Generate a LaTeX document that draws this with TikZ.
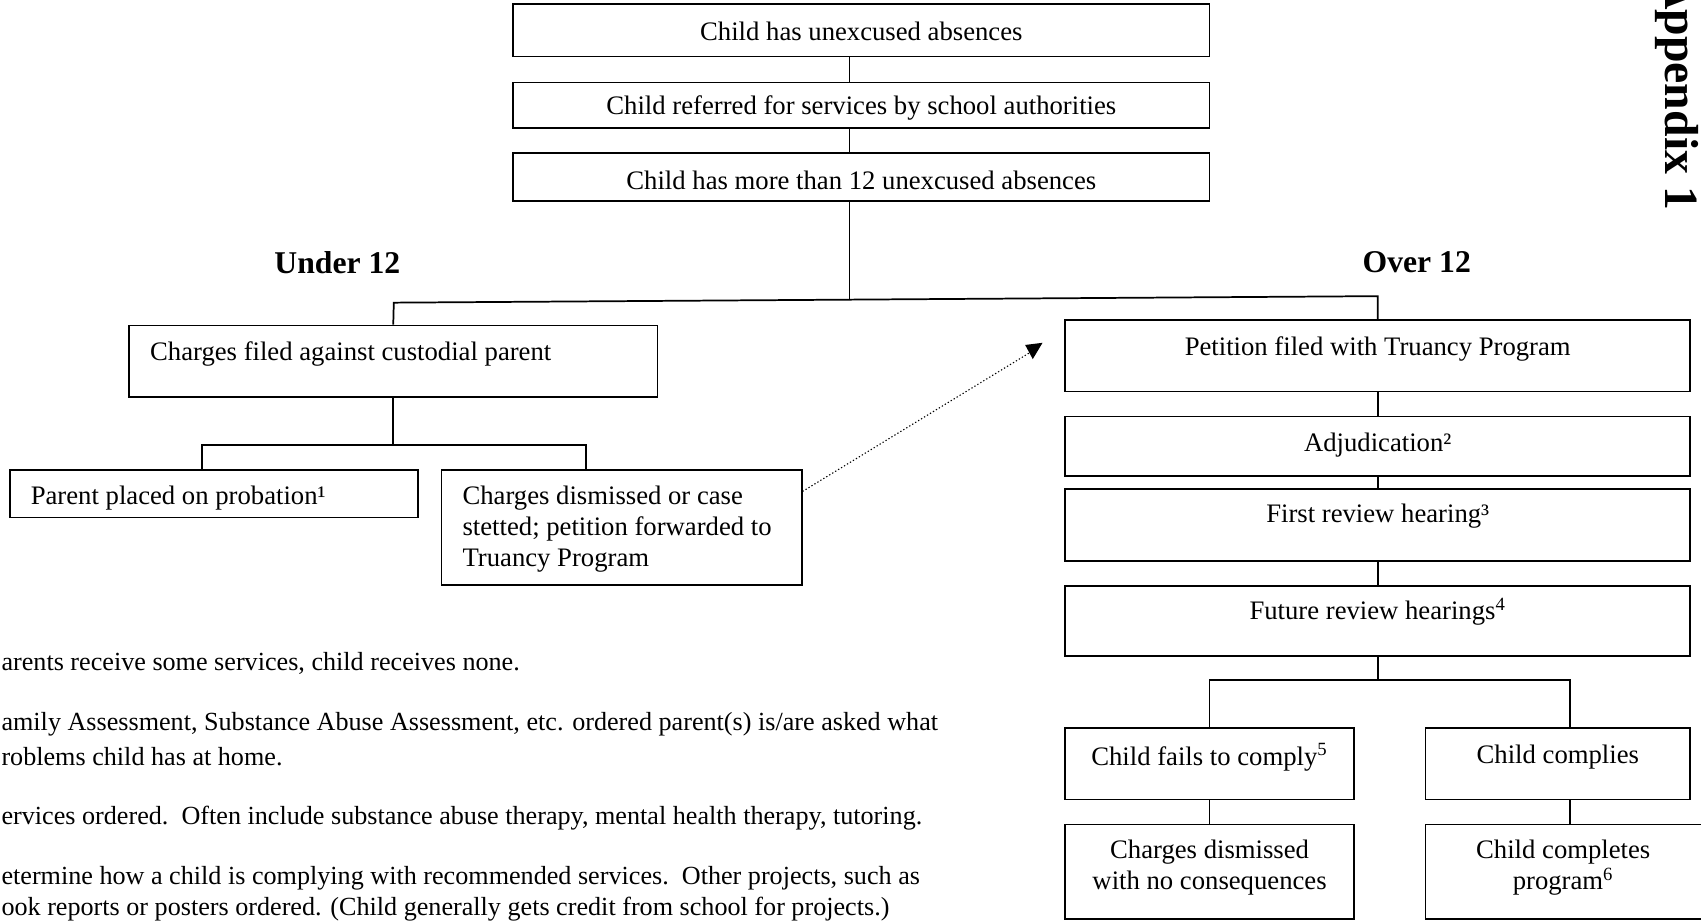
\documentclass[tikz,border=0pt]{standalone}
\usepackage{fontspec}
\setmainfont{Liberation Serif}
\usetikzlibrary{fit,arrows.meta}
\begin{document}
\begin{tikzpicture}[x=0.5pt,y=-0.5pt,
  box/.style={draw, line width=0.8pt, inner sep=0pt},
  conn/.style={line width=0.8pt},
  txt/.style={inner sep=0pt, font=\fontsize{12.3}{14.25}\selectfont},
  note/.style={inner sep=0pt, anchor=west, font=\fontsize{12.05}{14}\selectfont},
  head/.style={inner sep=0pt, font=\fontsize{14.6}{17}\selectfont\bfseries},
  dotconn/.style={line width=0.5pt, dash pattern=on 0.6pt off 1pt}
]
\useasboundingbox (0,0) rectangle (1568,849);

% boxes
\node[box, fit={(473,4) (1115,52)}] (A) {};
\node[box, fit={(473,76) (1115,118)}] (B) {};
\node[box, fit={(473,141) (1115,185)}] (C) {};
\node[box, fit={(119,300) (606,366)}] (D) {};
\node[box, fit={(9,433) (385,477)}] (E) {};
\node[box, fit={(407,433) (739,539)}] (F) {};
\node[box, fit={(982,295) (1558,361)}] (G) {};
\node[box, fit={(982,384) (1558,439)}] (H) {};
\node[box, fit={(982,451) (1558,517)}] (I) {};
\node[box, fit={(982,540) (1558,605)}] (J) {};
\node[box, fit={(982,671) (1248,737)}] (K) {};
\node[box, fit={(1314,671) (1558,737)}] (L) {};
\node[box, fit={(982,760) (1248,847)}] (M) {};
\node[box, fit={(1314,760) (1575,847)}] (N) {};

% texts
\node[txt] (tA) at (794,29) {Child has unexcused absences};
\node[txt] (tB) at (794,100) {Child referred for services by school authorities};
\node[txt] (tC) at (794,166) {Child has more than 12 unexcused absences};
\node[txt, anchor=west] (tD) at (138,326) {Charges filed against custodial parent};
\node[txt, anchor=west] (tE) at (28,459) {Parent placed on probation¹};
\node[txt, anchor=west, align=left] (tF) at (426,487.5) {Charges dismissed or case\\stetted; petition forwarded to\\Truancy Program};
\node[txt] (tG) at (1270,322) {Petition filed with Truancy Program};
\node[txt] (tH) at (1270,410) {Adjudication²};
\node[txt] (tI) at (1270,476) {First review hearing³};
\node[txt] (tJ) at (1270,564) {Future review hearings\textsuperscript{4}};
\node[txt] (tK) at (1115,698) {Child fails to comply\textsuperscript{5}};
\node[txt] (tL) at (1436,698) {Child complies};
\node[txt, align=center] (tM) at (1115,800) {Charges dismissed\\with no consequences};
\node[txt, align=center] (tN) at (1441,800) {Child completes\\program\textsuperscript{6}};

\node[head] (u12) at (311,242) {Under 12};
\node[head] (o12) at (1306,242) {Over 12};
\node[inner sep=0pt, font=\fontsize{22}{26}\selectfont\bfseries, rotate=-90, anchor=base east] (app) at (1535,194) {Appendix 1};

% notes
\node[note] (n1) at (1,612) {arents receive some services, child receives none.};
\node[note] (n2a) at (1,668) {amily Assessment, Substance Abuse Assessment, etc. ordered parent(s) is/are asked what};
\node[note] (n2b) at (1,697) {roblems child has at home.};
\node[note] (n3) at (1,754) {ervices ordered.\ \ Often include substance abuse therapy, mental health therapy, tutoring.};
\node[note] (n4a) at (1,810) {etermine how a child is complying with recommended services.\ \ Other projects, such as};
\node[note] (n4b) at (1,838) {ook reports or posters ordered. (Child generally gets credit from school for projects.)};

% helper coordinates
\coordinate (jm) at (783,276);
\coordinate (lj) at (363,279);
\coordinate (rj) at (1270,273);
\coordinate (ld1) at (186,410);
\coordinate (ld2) at (540,410);
\coordinate (rb) at (1270,627);
\coordinate (rdrop) at (1447,627);
\coordinate (tip) at (951,324);

% connectors
\draw[conn] (A.south -| jm) -- (B.north -| jm);
\draw[conn] (B.south -| jm) -- (C.north -| jm);
\draw[conn] (C.south -| jm) -- (jm);
\draw[conn] (D.north) -- (lj) -- (rj) -- (G.north);
\draw[conn] (D.south) -- (D.south |- ld1);
\draw[conn] (ld1 |- E.north) -- (ld1) -- (ld2) -- (ld2 |- F.north);
\draw[conn] (G.south) -- (H.north);
\draw[conn] (H.south) -- (I.north);
\draw[conn] (I.south) -- (J.north);
\draw[conn] (J.south) -- (rb);
\draw[conn] (K.north) -- (K.north |- rb) -- (rdrop) -- (rdrop |- L.north);
\draw[conn] (K.south) -- (M.north);
\draw[conn] (L.south -| rdrop) -- (N.north -| rdrop);

% dotted arrow
\draw[dotconn] ([yshift=16.5pt]F.east) -- (tip);
\fill ([shift={(-6,-6)}]tip) -- ([shift={(10,-8)}]tip) -- ([shift={(1,7)}]tip) -- cycle;
\end{tikzpicture}
\end{document}
